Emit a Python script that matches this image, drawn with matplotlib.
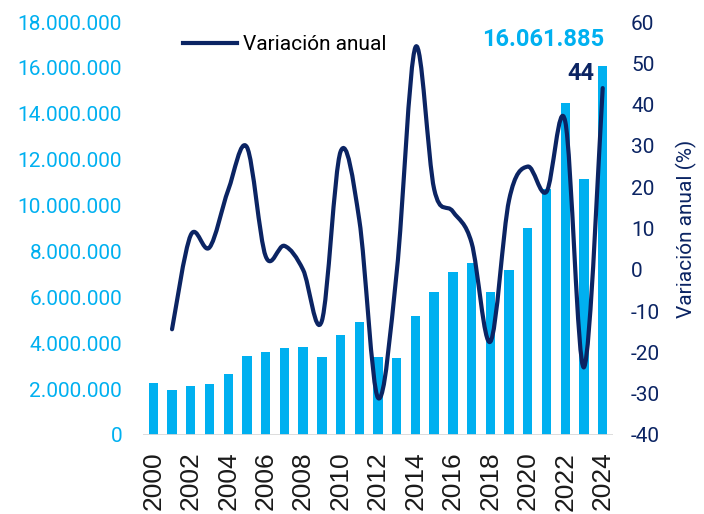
import numpy as np
import matplotlib.pyplot as plt
from matplotlib.path import Path
from matplotlib.patches import PathPatch
from matplotlib.lines import Line2D
from matplotlib.ticker import FuncFormatter, MultipleLocator

# datos
anios = list(range(2000, 2025))
valores = [2.28, 1.95, 2.13, 2.23, 2.67, 3.45, 3.60, 3.81, 3.83, 3.39,
           4.35, 4.92, 3.41, 3.37, 5.18, 6.24, 7.10, 7.51, 6.22, 7.21,
           9.03, 10.70, 14.48, 11.14, 16.061885]  # millones
anios_var = list(range(2001, 2025))
variacion = [-14.4, 8.4, 5.4, 19.3, 29.7, 3.3, 5.8, 0.0, -12.4, 28.6,
             12.1, -31.0, -0.5, 53.9, 19.5, 14.1, 6.5, -17.4, 16.9, 25.0,
             18.9, 35.9, -23.6, 44.0]

celeste = '#00B0F0'
azul = '#0B2463'
plt.rcParams['font.family'] = ['Roboto', 'DejaVu Sans']
plt.rcParams['axes.unicode_minus'] = False

fig = plt.figure(figsize=(7.04, 5.14), dpi=100)
ax = fig.add_axes([143/704, 1-435/514, 470/704, 413/514])
ax2 = ax.twinx()

x = np.arange(len(anios))
ax.bar(x, np.array(valores)*1e6, width=0.5, color=celeste, zorder=2)
ax.set_xlim(-0.55, 24.55)
ax.set_ylim(0, 18e6)
ax.yaxis.set_major_locator(MultipleLocator(2e6))
ax.yaxis.set_major_formatter(FuncFormatter(lambda v, p: f'{int(v):,}'.replace(',', '.')))
ax.set_xticks(x[::2])
ax.set_xticklabels([str(a) for a in anios[::2]], rotation=90,
                   fontsize=19, family='Liberation Sans', color='#1a1a1a')
ax.tick_params(axis='x', length=0, pad=12)
ax.tick_params(axis='y', length=0, pad=15, labelsize=15, labelcolor=celeste)
for s in ax.spines.values():
    s.set_visible(False)
ax.axhline(0, color='#D9D9D9', lw=2, zorder=3)

# línea suavizada (estilo Excel) con curvas de Bézier
xv = np.array([anios.index(a) for a in anios_var], dtype=float)
yv = np.array(variacion)
verts = [(xv[0], yv[0])]
codes = [Path.MOVETO]
n = len(xv)
for i in range(n-1):
    p0 = np.array([xv[max(i-1, 0)], yv[max(i-1, 0)]])
    p1 = np.array([xv[i], yv[i]])
    p2 = np.array([xv[i+1], yv[i+1]])
    p3 = np.array([xv[min(i+2, n-1)], yv[min(i+2, n-1)]])
    c1 = p1 + (p2 - p0) / 6
    c2 = p2 - (p3 - p1) / 6
    verts += [tuple(c1), tuple(c2), tuple(p2)]
    codes += [Path.CURVE4]*3
ax2.add_patch(PathPatch(Path(verts, codes), fill=False, edgecolor=azul,
                        lw=3, capstyle='round', joinstyle='round', zorder=4))
ax2.set_ylim(-40, 60)
ax2.yaxis.set_major_locator(MultipleLocator(10))
ax2.tick_params(axis='y', length=0, pad=13, labelsize=15, labelcolor=azul)
ax2.set_ylabel('Variación anual (%)', fontsize=15, color=azul, labelpad=11)
for s in ax2.spines.values():
    s.set_visible(False)

ax.annotate('16.061.885', xy=(24.1, valores[-1]*1e6), xytext=(0, 15),
            textcoords='offset points', ha='right', va='baseline',
            fontsize=17, fontweight='bold', color=celeste)
ax2.annotate(f'{variacion[-1]:.0f}', xy=(24, variacion[-1]), xytext=(-6, 6),
             textcoords='offset points', ha='right', va='baseline',
             fontsize=17, fontweight='bold', color=azul)

h = Line2D([], [], color=azul, lw=3)
fig.legend([h], ['Variación anual'], loc='center left',
           bbox_to_anchor=(183/704, 1-45/514), frameon=False, fontsize=15,
           handlelength=2.6, handletextpad=0.3, borderpad=0, borderaxespad=0)

fig.savefig('out.png', dpi=100)
